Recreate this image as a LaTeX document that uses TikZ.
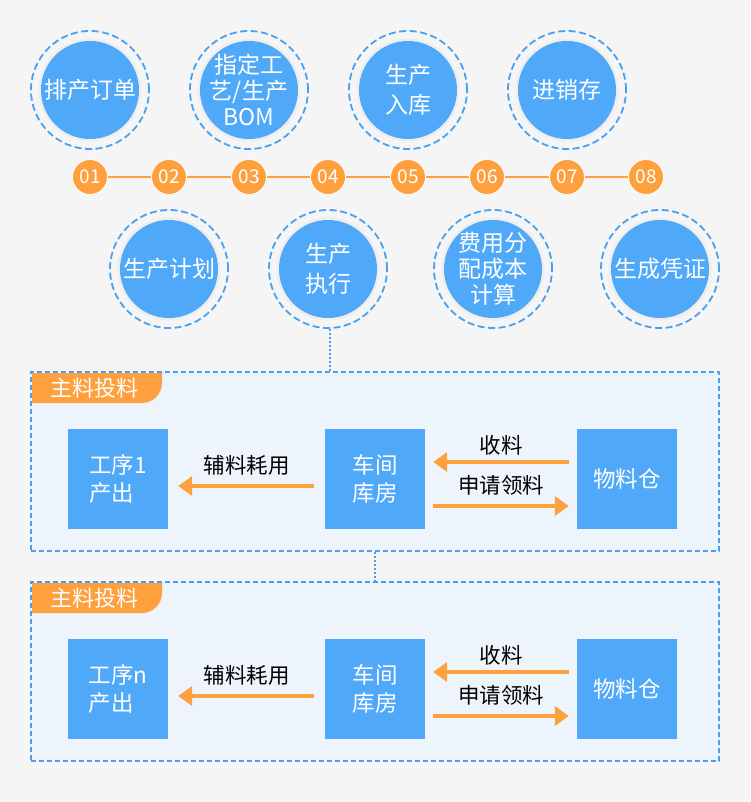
\documentclass[tikz,border=0pt]{standalone}
\usepackage{fontspec}
\setmainfont{Noto Sans CJK SC}
\usetikzlibrary{arrows.meta}

\definecolor{bgray}{RGB}{245,245,245}
\definecolor{stageblue}{RGB}{80,168,248}
\definecolor{ringblue}{RGB}{74,160,240}
\definecolor{steporange}{RGB}{254,160,62}
\definecolor{panelfill}{RGB}{238,244,251}
\definecolor{halo}{RGB}{238,238,238}

\tikzset{
  stage/.style={circle, minimum size=118pt, inner sep=0pt, draw=ringblue, line width=1.8pt,
    dash pattern=on 7pt off 3.5pt, text=white, align=center, font=\fontsize{23}{26}\selectfont,
    path picture={\fill[halo] (path picture bounding box.center) circle[radius=51.5pt];
                  \fill[stageblue] (path picture bounding box.center) circle[radius=49pt];}},
  numstep/.style={circle, fill=steporange, draw=white, line width=0.8pt, minimum size=35pt,
    inner sep=0pt, text=white, font=\fontsize{19}{19}\selectfont},
  timeline/.style={draw=steporange, line width=2pt},
  station/.style={fill=stageblue, minimum size=100pt, inner sep=0pt, text=white, align=left,
    font=\fontsize{22.5}{28}\selectfont},
  panel/.style={draw=ringblue, fill=panelfill, line width=1.6pt, dash pattern=on 5pt off 3pt,
    minimum width=688pt, minimum height=179pt, inner sep=0pt},
  tablabel/.style={inner sep=0pt, text=white, font=\fontsize{22}{22}\selectfont},
  flow/.style={draw=steporange, line width=3.5pt, -{Triangle[length=14pt,width=19pt]}},
  flowlabel/.style={inner sep=0pt, text=black, font=\fontsize{21.5}{21.5}\selectfont},
  link/.style={draw=ringblue, line width=1.5pt, dash pattern=on 2pt off 2pt}
}

\begin{document}
\begin{tikzpicture}[x=1pt, y=-1pt]
    \useasboundingbox (0,0) rectangle (750,802);
    \fill[bgray] (0,0) rectangle (750,802);

    % panels
    \node[panel] (p1) at (375,461.5) {};
    \node[panel] (p2) at (375,671.5) {};
    \fill[steporange] (32,373) -- (162,373) -- (162,383) .. controls (162,394) and (153,403) .. (142,403) -- (32,403) -- cycle;
    \fill[steporange] (32,583) -- (162,583) -- (162,593) .. controls (162,604) and (153,613) .. (142,613) -- (32,613) -- cycle;
    \node[tablabel] (tab1) at (94,388) {主料投料};
    \node[tablabel] (tab2) at (94,598) {主料投料};

    % stations
    \node[station] (gx1) at (118,479) {工序1\\产出};
    \node[station] (cj1) at (375,479) {车间\\库房};
    \node[station] (wl1) at (627,479) {物料仓};
    \node[station] (gx2) at (118,689) {工序n\\产出};
    \node[station] (cj2) at (375,689) {车间\\库房};
    \node[station] (wl2) at (627,689) {物料仓};

    \draw[flow, shorten <=11pt, shorten >=10pt] ([yshift=-7pt]cj1.west) -- ([yshift=-7pt]gx1.east)
        node[flowlabel, midway, above=9pt] {辅料耗用};
    \draw[flow, shorten <=8pt, shorten >=8pt] ([yshift=17pt]wl1.west) -- ([yshift=17pt]cj1.east)
        node[flowlabel, midway, above=5pt] {收料};
    \draw[flow, shorten <=8pt, shorten >=8pt] ([yshift=-27pt]cj1.east) -- ([yshift=-27pt]wl1.west)
        node[flowlabel, midway, above=9pt] {申请领料};
    \draw[flow, shorten <=11pt, shorten >=10pt] ([yshift=-7pt]cj2.west) -- ([yshift=-7pt]gx2.east)
        node[flowlabel, midway, above=9pt] {辅料耗用};
    \draw[flow, shorten <=8pt, shorten >=8pt] ([yshift=17pt]wl2.west) -- ([yshift=17pt]cj2.east)
        node[flowlabel, midway, above=5pt] {收料};
    \draw[flow, shorten <=8pt, shorten >=8pt] ([yshift=-27pt]cj2.east) -- ([yshift=-27pt]wl2.west)
        node[flowlabel, midway, above=9pt] {申请领料};

    % stages
    \node[stage] (order) at (90,90)   {排产订单};
    \node[stage] (bom)   at (249,90)  {指定工\\艺/生产\\BOM};
    \node[stage] (store) at (408,90)  {生产\\[4pt]入库};
    \node[stage] (jxc)   at (567,90)  {进销存};
    \node[stage] (plan)  at (169,269) {生产计划};
    \node[stage] (exec)  at (328,269) {生产\\[4pt]执行};
    \node[stage] (cost)  at (493,269) {费用分\\配成本\\计算};
    \node[stage] (vouch) at (660,269) {生成凭证};

    % numbers
    \foreach \x [count=\i] in {90,169,249,328,408,487,567,646}
        \node[numstep] (n\i) at (\x,177) {0\i};
    \foreach \a/\b in {1/2,2/3,3/4,4/5,5/6,6/7,7/8}
        \draw[timeline] (n\a) -- (n\b);

    \draw[link] ([xshift=2pt]exec.south) -- ([xshift=2pt]exec.south |- p1.north);
    \draw[link] (p1.south) -- (p2.north);
\end{tikzpicture}
\end{document}
